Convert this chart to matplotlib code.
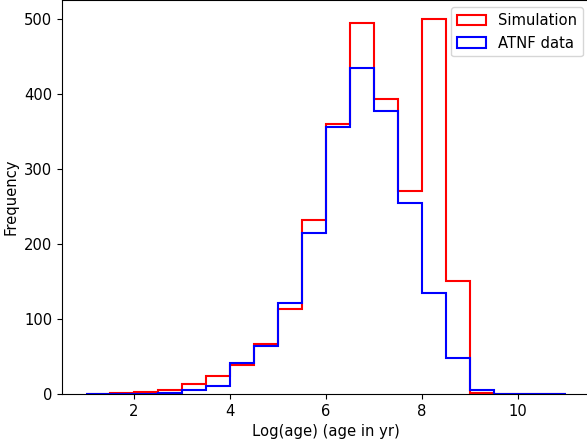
import numpy as np
import matplotlib
matplotlib.use("Agg")
import matplotlib.pyplot as plt

plt.rcParams["font.size"] = 10.6

# bin edges in log(age), width 0.5 from 1 to 11
edges = np.arange(1.0, 11.01, 0.5)
centers = (edges[:-1] + edges[1:]) / 2

# counts per bin
sim_counts = [0, 1, 3, 5, 13, 24, 38, 66, 113, 232, 360, 495,
              393, 271, 500, 151, 1, 0, 0, 0]
atnf_counts = [0, 0, 0, 1, 5, 11, 41, 64, 121, 215, 356, 435,
               377, 255, 135, 48, 6, 0, 0, 0]

fig = plt.figure(figsize=(5.87, 4.48), dpi=100)
ax = fig.add_axes([0.1056, 0.1205, 0.8995, 0.8795])

ax.hist(centers, bins=edges, weights=sim_counts, histtype="step",
        color="red", linewidth=1.5, label="Simulation")
ax.hist(centers, bins=edges, weights=atnf_counts, histtype="step",
        color="blue", linewidth=1.5, label="ATNF data")

ax.set_xlim(0.5, 11.5)
ax.set_ylim(0, 525)
ax.set_xticks([2, 4, 6, 8, 10])
ax.set_xlabel("Log(age) (age in yr)")
ax.set_ylabel("Frequency")
ax.legend(loc="upper right")

fig.savefig("out.png", dpi=100)
